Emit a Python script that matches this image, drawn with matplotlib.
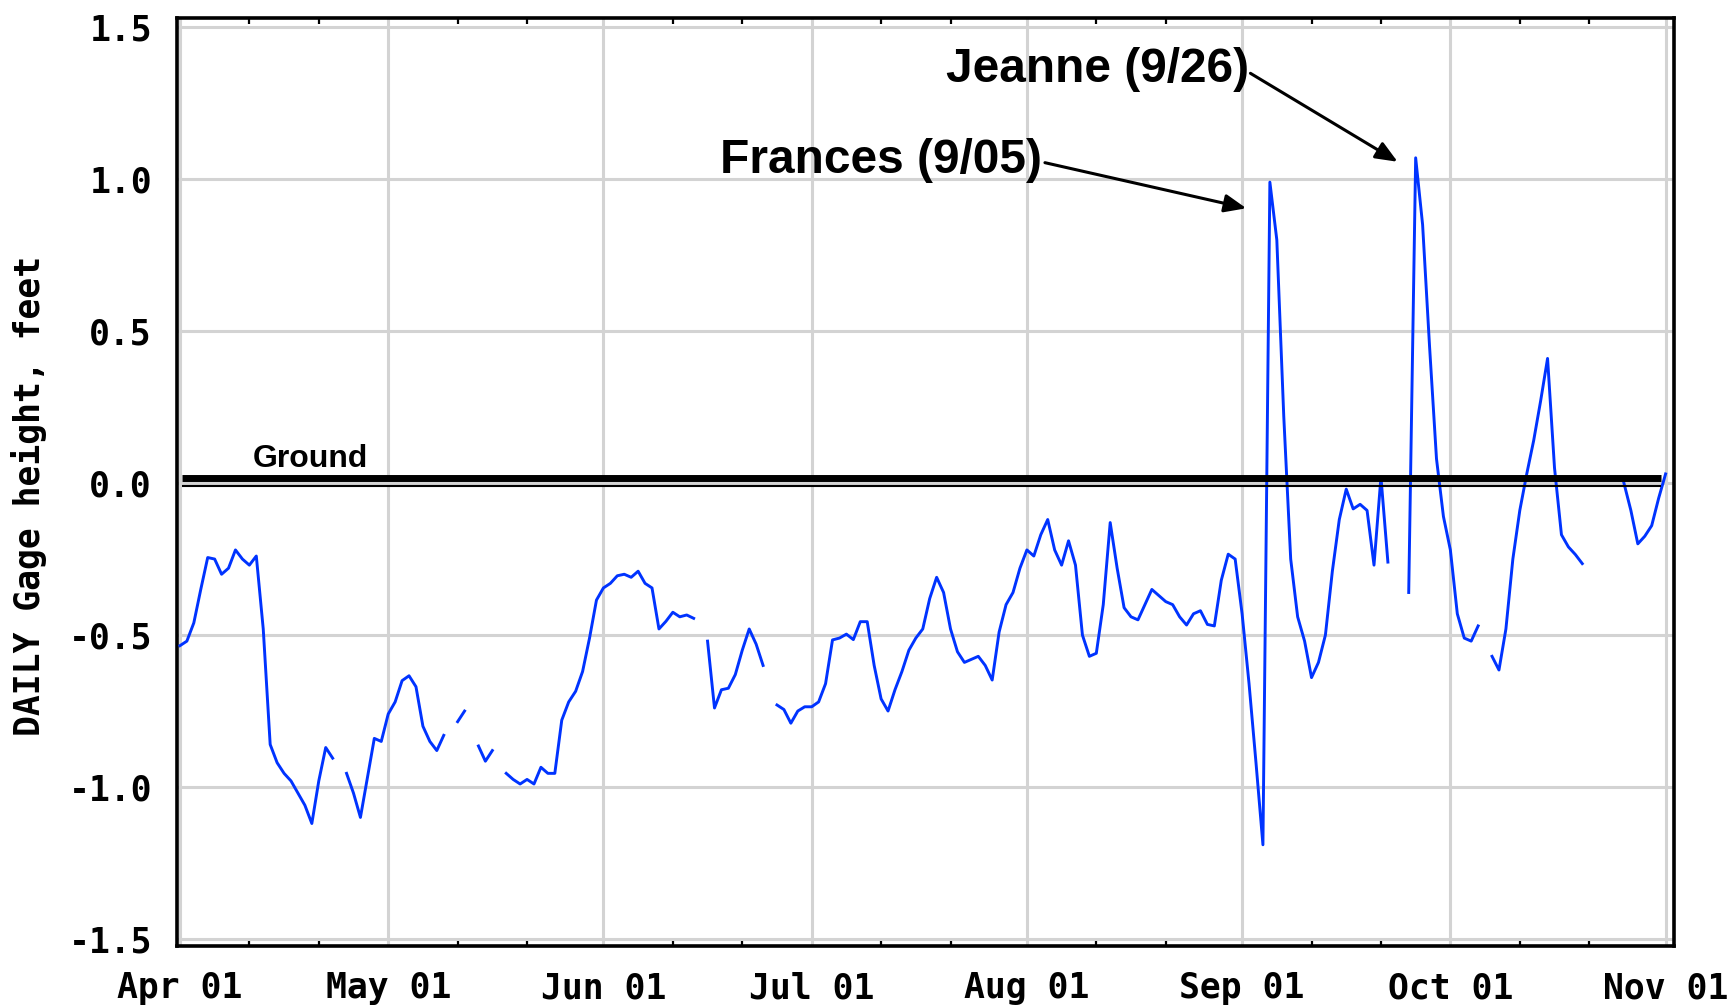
import numpy as np
import matplotlib
matplotlib.use("Agg")
import matplotlib.pyplot as plt
import matplotlib.dates as mdates
from matplotlib.ticker import MultipleLocator, FormatStrFormatter

# daily gage height (feet), None = missing day
apr = [-0.535, -0.52, -0.46, -0.35, -0.245, -0.25, -0.30, -0.28, -0.22, -0.25,
       -0.27, -0.24, -0.48, -0.86, -0.92, -0.955, -0.98, -1.02, -1.06, -1.12,
       -0.98, -0.87, -0.905, None, -0.955, -1.02, -1.10, -0.97, -0.84, -0.85]
may = [-0.76, -0.72, -0.65, -0.634, -0.67, -0.80, -0.85, -0.88, -0.83, None,
       -0.785, -0.75, None, -0.865, -0.915, -0.88, None, -0.955, -0.975, -0.99,
       -0.975, -0.99, -0.935, -0.955, -0.955, -0.78, -0.72, -0.685, -0.62, -0.51,
       -0.385]
jun = [-0.345, -0.33, -0.305, -0.30, -0.31, -0.29, -0.33, -0.345, -0.48, -0.455,
       -0.425, -0.44, -0.434, -0.445, None, -0.52, -0.74, -0.68, -0.675, -0.63,
       -0.55, -0.48, -0.53, -0.60, None, -0.73, -0.745, -0.79, -0.75, -0.736]
jul = [-0.736, -0.72, -0.66, -0.516, -0.51, -0.497, -0.515, -0.456, -0.456, -0.60,
       -0.71, -0.75, -0.68, -0.62, -0.55, -0.51, -0.48, -0.38, -0.31, -0.36,
       -0.48, -0.555, -0.59, -0.58, -0.57, -0.60, -0.648, -0.49, -0.40, -0.36,
       -0.28]
aug = [-0.22, -0.24, -0.17, -0.12, -0.22, -0.27, -0.19, -0.27, -0.50, -0.57,
       -0.56, -0.40, -0.13, -0.28, -0.41, -0.44, -0.45, -0.40, -0.35, -0.37,
       -0.39, -0.40, -0.44, -0.467, -0.43, -0.42, -0.465, -0.47, -0.32, -0.234,
       -0.25]
sep = [-0.43, -0.66, -0.92, -1.19, 0.99, 0.80, 0.22, -0.25, -0.44, -0.52,
       -0.64, -0.59, -0.50, -0.29, -0.12, -0.02, -0.085, -0.07, -0.09, -0.27,
       0.02, -0.26, None, None, -0.36, 1.07, 0.85, 0.45, 0.08, -0.11]
octo = [-0.22, -0.43, -0.51, -0.52, -0.47, None, -0.57, -0.615, -0.48, -0.25,
        -0.09, 0.03, 0.14, 0.27, 0.41, 0.05, -0.17, -0.21, -0.235, -0.265,
        None, None, None, None, None, 0.0, -0.09, -0.2, -0.175, -0.14,
        -0.05]
nov = [0.03]

start = np.datetime64("2004-04-01")
values = np.array(apr + may + jun + jul + aug + sep + octo + nov, dtype=float)
dates = start + np.arange(len(values)).astype("timedelta64[D]")

plt.rcParams["axes.unicode_minus"] = False
mono = "DejaVu Sans Mono"

fig = plt.figure(figsize=(17.28, 10.05), dpi=100)
ax = fig.add_axes([0.1024, 0.0587, 0.8663, 0.9234])

t0 = mdates.date2num(start)
ax.set_xlim(t0 - 0.43, t0 + 215.2)
ax.set_ylim(-1.523, 1.53)

ax.grid(True, color="#d3d3d3", linewidth=2.2, zorder=0)
ax.set_axisbelow(True)

ax.plot(dates, values, color="#0033ff", linewidth=2.1, zorder=3)

# ground line
ax.hlines(0.0155, t0 + 0.33, t0 + 213.3, color="black", linewidth=5, zorder=4)
ax.hlines(-0.009, t0 + 0.33, t0 + 213.3, color="black", linewidth=1.5, zorder=4)
ax.text(t0 + 10.5, 0.054, "Ground", fontsize=23, fontweight="bold",
        family="Liberation Sans", ha="left", va="baseline")

# storm labels
ax.text(t0 + 124.2, 1.06, "Frances (9/05)", fontsize=34.5, fontweight="bold",
        family="Liberation Sans", ha="right", va="center")
ax.text(t0 + 154.0, 1.362, "Jeanne (9/26)", fontsize=34.5, fontweight="bold",
        family="Liberation Sans", ha="right", va="center")
arrow = dict(arrowstyle="-|>,head_length=0.6,head_width=0.25", color="black",
             lw=2.2, mutation_scale=22, shrinkA=0, shrinkB=0)
ax.annotate("", xy=(t0 + 153.6, 0.904), xytext=(t0 + 124.6, 1.054), arrowprops=arrow)
ax.annotate("", xy=(t0 + 175.4, 1.057), xytext=(t0 + 154.2, 1.348), arrowprops=arrow)

ax.xaxis.set_major_locator(mdates.MonthLocator())
ax.xaxis.set_major_formatter(mdates.DateFormatter("%b %d"))
ax.xaxis.set_minor_locator(mdates.DayLocator(bymonthday=[11, 21]))
ax.yaxis.set_major_locator(MultipleLocator(0.5))
ax.yaxis.set_major_formatter(FormatStrFormatter("%.1f"))

ax.tick_params(axis="x", which="major", length=0, pad=18)
ax.tick_params(axis="x", which="minor", direction="in", length=4, width=1.6,
               top=True, bottom=True)
ax.tick_params(axis="y", which="major", length=0, pad=18)
for lab in ax.get_xticklabels() + ax.get_yticklabels():
    lab.set_fontfamily(mono)
    lab.set_fontweight("bold")
    lab.set_fontsize(25)

ax.set_ylabel("DAILY Gage height, feet", fontsize=25, fontweight="bold", family=mono)
ax.yaxis.set_label_coords(-0.087, 0.485)

for sp in ax.spines.values():
    sp.set_linewidth(2.6)
    sp.set_color("black")

fig.savefig("out.png", dpi=100)
